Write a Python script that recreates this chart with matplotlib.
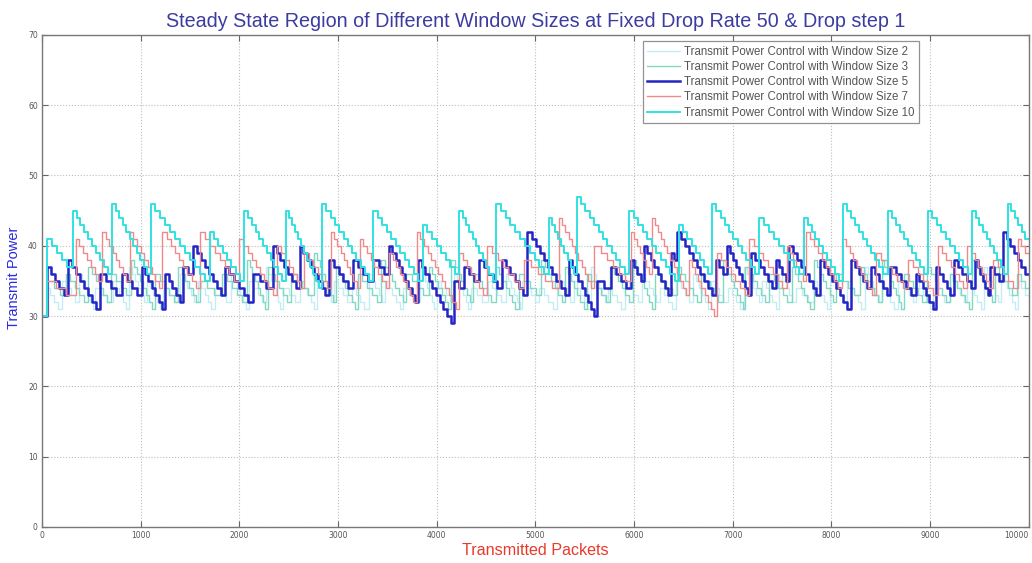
import matplotlib
matplotlib.use("Agg")
import matplotlib.pyplot as plt

# Transmit power traces: each sawtooth cycle is (jump position in packets, level after
# the jump, lowest level reached before the next jump); power then drops by 1 per step.
x_end = 10000
start_level = 30

w2_x = [40, 200, 380, 540, 720, 880, 1060, 1230, 1400, 1580, 1750, 1920, 2100, 2270, 2440,
        2620, 2790, 2960, 3140, 3310, 3480, 3660, 3830, 4000, 4180, 4350, 4520, 4700, 4870,
        5040, 5220, 5390, 5560, 5740, 5910, 6080, 6260, 6430, 6600, 6780, 6950, 7120, 7300,
        7470, 7640, 7820, 7990, 8160, 8340, 8510, 8680, 8860, 9030, 9200, 9380, 9550, 9720,
        9890]
w2_peak = [34, 35, 36, 34, 35, 37, 35, 34, 36, 35, 34, 36, 35, 37, 34, 35, 36, 35, 34, 36,
           35, 34, 37, 35, 36, 34, 35, 36, 35, 34, 36, 35, 37, 34, 35, 36, 34, 35, 36, 35,
           34, 37, 35, 36, 34, 35, 36, 35, 37, 34, 36, 35, 34, 36, 35, 37, 36, 35]
w2_low = [31, 32, 31, 32, 31, 32, 31, 32, 32, 31, 32, 31, 32, 31, 32, 31, 32, 32, 31, 32,
          31, 32, 31, 32, 31, 32, 32, 31, 32, 31, 32, 31, 32, 31, 32, 32, 31, 32, 31, 32,
          31, 32, 31, 32, 32, 31, 32, 31, 32, 31, 32, 31, 32, 32, 31, 32, 31, 33]

w3_x = [60, 240, 470, 700, 900, 1150, 1380, 1600, 1820, 2080, 2290, 2520, 2760, 2980, 3200,
        3440, 3690, 3920, 4150, 4370, 4600, 4830, 5060, 5300, 5520, 5760, 5990, 6210, 6440,
        6680, 6900, 7130, 7370, 7600, 7820, 8050, 8290, 8510, 8740, 8970, 9200, 9430, 9660,
        9880]
w3_peak = [35, 36, 37, 36, 38, 36, 37, 35, 36, 38, 37, 36, 39, 37, 36, 38, 36, 37, 38, 36,
           37, 36, 38, 37, 36, 37, 38, 36, 37, 36, 38, 37, 36, 37, 38, 36, 37, 38, 36, 37,
           36, 38, 37, 36]
w3_low = [33, 32, 32, 33, 31, 32, 32, 33, 32, 31, 32, 33, 32, 31, 32, 32, 33, 31, 32, 32,
          31, 33, 32, 31, 32, 32, 31, 33, 32, 32, 31, 32, 32, 31, 32, 33, 32, 31, 32, 32,
          31, 32, 33, 34]

w5_x = [50, 260, 590, 810, 1010, 1250, 1430, 1530, 1850, 2140, 2340, 2610, 2910, 3150, 3360,
        3520, 3810, 4180, 4280, 4430, 4660, 4920, 5340, 5630, 5770, 5970, 6100, 6380, 6440,
        6830, 6940, 7190, 7440, 7570, 7890, 8200, 8400, 8600, 8860, 9060, 9240, 9460, 9610,
        9740]
w5_peak = [37, 38, 36, 36, 37, 36, 37, 40, 37, 36, 40, 40, 38, 38, 38, 40, 38, 35, 37, 38,
           38, 42, 38, 35, 37, 38, 40, 39, 42, 38, 40, 39, 38, 40, 38, 38, 37, 37, 36, 37,
           38, 38, 37, 42]
w5_low = [33, 31, 33, 33, 31, 32, 36, 33, 32, 34, 34, 33, 34, 35, 36, 32, 29, 34, 35, 34,
          33, 33, 30, 34, 34, 35, 33, 38, 33, 36, 33, 34, 35, 33, 31, 34, 33, 33, 31, 33,
          34, 33, 35, 36]

w7_x = [50, 340, 610, 890, 1220, 1600, 2000, 2380, 2660, 2930, 3220, 3520, 3800, 4230, 4510,
        4890, 5240, 5600, 5970, 6180, 6560, 6840, 7170, 7550, 7740, 8110, 8450, 8780, 9080,
        9380, 9640, 9890]
w7_peak = [35, 41, 42, 42, 42, 42, 41, 40, 39, 42, 41, 39, 42, 39, 40, 38, 44, 40, 42, 44,
           38, 39, 41, 40, 42, 41, 39, 38, 40, 40, 38, 41]
w7_low = [33, 35, 35, 34, 34, 35, 33, 34, 34, 34, 34, 32, 31, 33, 34, 34, 34, 35, 36, 33,
          30, 33, 34, 35, 34, 33, 34, 33, 34, 34, 34, 39]

w10_x = [50, 310, 710, 1100, 1700, 2050, 2470, 2840, 3360, 3860, 4230, 4600, 5140, 5420,
         5950, 6460, 6790, 7270, 7720, 8120, 8570, 8980, 9430, 9790]
w10_peak = [41, 45, 46, 46, 42, 45, 45, 46, 45, 43, 45, 46, 44, 47, 45, 43, 46, 44, 44, 46,
            45, 45, 45, 46]
w10_low = [37, 36, 36, 35, 35, 35, 34, 35, 35, 36, 35, 36, 36, 36, 35, 36, 36, 36, 35, 36,
           36, 36, 36, 41]

labels = ["Transmit Power Control with Window Size 2",
          "Transmit Power Control with Window Size 3",
          "Transmit Power Control with Window Size 5",
          "Transmit Power Control with Window Size 7",
          "Transmit Power Control with Window Size 10"]

x_ticks = list(range(0, 10001, 1000))
y_ticks = list(range(0, 71, 10))


def staircase(xs, peaks, lows):
    """Turn sawtooth cycles into step vertices (decrement of 1 per step)."""
    px, py = [0], [start_level]
    bounds = list(xs) + [x_end]
    for i, (pk, lo) in enumerate(zip(peaks, lows)):
        x0, x1 = bounds[i], bounds[i + 1]
        n = pk - lo + 1
        w = (x1 - x0) / n
        for k in range(n):
            px.append(x0 + k * w)
            py.append(pk - k)
    px.append(x_end)
    py.append(py[-1])
    return px, py


fig = plt.figure(figsize=(10.32, 5.63), dpi=100)
ax = fig.add_axes([0.0407, 0.064, 0.956, 0.874])

series = [
    (w2_x, w2_peak, w2_low, "#c4ecf2", 1.0),
    (w3_x, w3_peak, w3_low, "#82d8c2", 1.0),
    (w5_x, w5_peak, w5_low, "#2424c4", 1.8),
    (w7_x, w7_peak, w7_low, "#f08a8a", 1.0),
    (w10_x, w10_peak, w10_low, "#30e2e2", 1.4),
]
for (xs, pk, lo, col, lw), lab in zip(series, labels):
    sx, sy = staircase(xs, pk, lo)
    ax.step(sx, sy, where="post", color=col, lw=lw, label=lab)

ax.set_xlim(0, 10000)
ax.set_ylim(0, 70)
ax.set_xticks(x_ticks)
ax.set_yticks(y_ticks)
ax.set_xticklabels([str(v) for v in x_ticks])
ax.tick_params(direction="in", length=4, labelsize=5.5, labelcolor="#555555",
               color="#666666", top=True, right=True, pad=3)
# keep the last x tick label inside the figure
ax.get_xticklabels()[-1].set_horizontalalignment("right")
ax.grid(True, linestyle=":", color="#bdbdbd", lw=0.8)
for s in ax.spines.values():
    s.set_color("#777777")
    s.set_linewidth(1.0)

ax.set_title("Steady State Region of Different Window Sizes at Fixed Drop Rate 50 & Drop step 1",
             fontsize=14.2, color="#3c3ca0", family="Liberation Sans", pad=6)
ax.set_xlabel("Transmitted Packets", fontsize=11.6, color="#e83a2a",
              family="Liberation Sans", labelpad=2)
ax.set_ylabel("Transmit Power", fontsize=10.5, color="#2a2ae0",
              family="Liberation Sans")
ax.yaxis.set_label_coords(-0.021, 0.506)

leg = ax.legend(loc="upper left", bbox_to_anchor=(0.603, 0.999), fontsize=8.3,
                frameon=True, fancybox=False, edgecolor="#777777", handlelength=2.8,
                handletextpad=0.4, labelspacing=0.28, borderpad=0.4)
leg.get_frame().set_linewidth(0.9)
for t in leg.get_texts():
    t.set_color("#555555")
    t.set_family("Liberation Sans")

fig.savefig("out.png", dpi=100)
